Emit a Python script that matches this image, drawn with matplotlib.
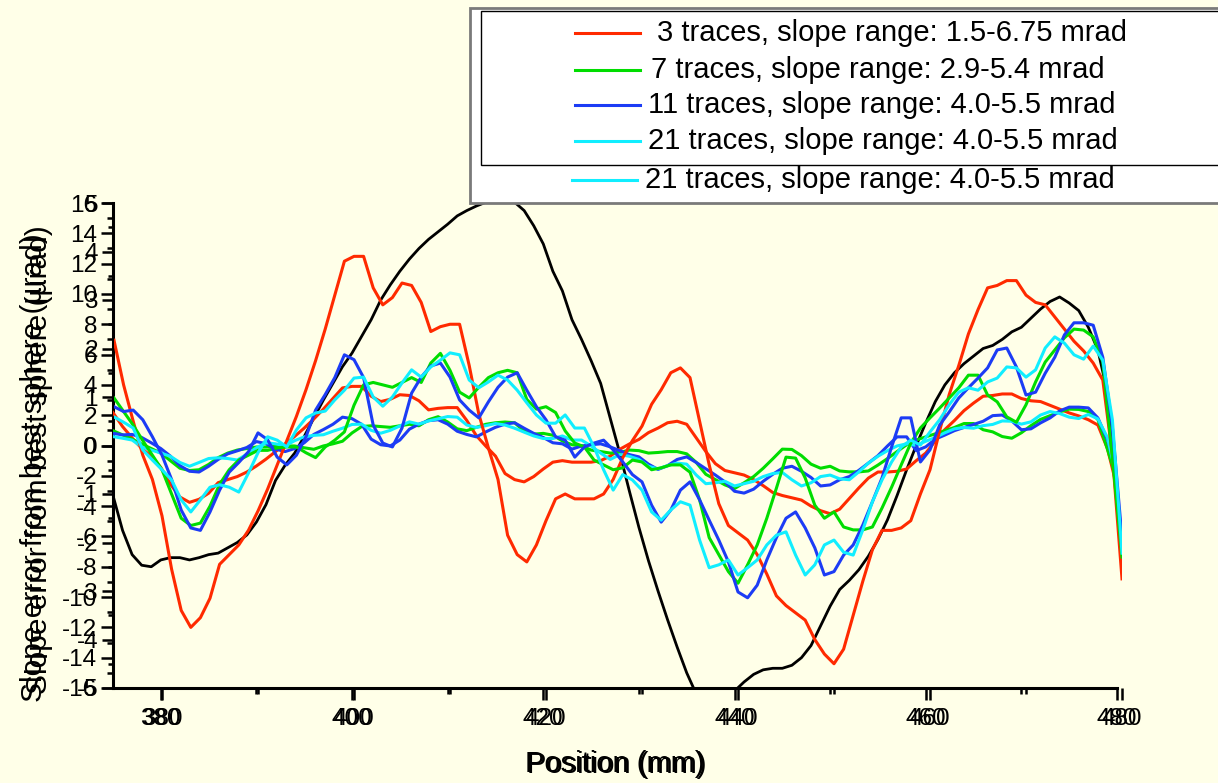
import numpy as np
import matplotlib
matplotlib.use("Agg")
import matplotlib.pyplot as plt
from matplotlib.lines import Line2D
from matplotlib.patches import Rectangle
from matplotlib.ticker import MultipleLocator

plt.rcParams['font.family'] = ['Liberation Sans', 'DejaVu Sans']
plt.rcParams['axes.unicode_minus'] = False

# ---------------- data ----------------
position = np.arange(375, 481)  # mm

red = [2.17, 1.25, 0.5, -0.2, -0.7, -1.45, -2.55, -3.4, -3.75, -3.55,
       -3.15, -2.45, -2.25, -2.05, -1.75, -1.35, -0.9, -0.4, 0.1, 0.6,
       1.15, 1.75, 2.4, 3.1, 3.8, 3.9, 3.9, 3.25, 2.9, 3.05,
       3.35, 3.3, 2.95, 2.35, 2.45, 2.5, 2.5, 1.65, 0.65, -0.05,
       -0.7, -1.85, -2.25, -2.4, -2.05, -1.55, -1.1, -1.0, -1.1, -1.1,
       -1.1, -1.0, -0.7, -0.25, 0.1, 0.4, 0.85, 1.15, 1.5, 1.6,
       1.4, 0.5, -0.4, -1.2, -1.65, -1.8, -1.95, -2.25, -2.65, -3.1,
       -3.3, -3.45, -3.6, -4.0, -4.3, -4.5, -4.2, -3.5, -2.8, -2.15,
       -1.75, -1.75, -1.7, -1.55, -1.0, -0.5, 0.3, 1.05, 1.65, 2.3,
       2.8, 3.25, 3.3, 3.4, 3.4, 3.1, 2.95, 2.9, 2.65, 2.4,
       2.15, 1.95, 1.7, 1.35, -0.2, -2.75]

green = [0.98, 0.7, 0.42, 0.1, -0.2, -0.5, -1.0, -1.5, -1.65, -1.6,
         -1.25, -0.8, -0.5, -0.3, -0.2, -0.1, -0.1, -0.05, -0.03, -0.03,
         -0.15, -0.25, -0.03, 0.11, 0.28, 0.83, 1.25, 1.3, 1.25, 1.2,
         1.3, 1.4, 1.3, 1.7, 1.9, 1.55, 1.1, 0.98, 1.2, 1.4,
         1.5, 1.55, 1.5, 0.95, 0.75, 0.8, 0.68, 0.3, 0.05, -0.03,
         -0.3, -0.4, -0.5, -0.46, -0.3, -0.34, -0.5, -0.46, -0.4, -0.4,
         -0.55, -1.12, -1.9, -2.25, -2.6, -2.84, -2.46, -2.05, -1.5, -0.88,
         -0.24, -0.26, -0.67, -1.23, -1.5, -1.37, -1.68, -1.74, -1.74, -1.68,
         -1.29, -0.86, -0.4, 0.05, 0.36, 0.57, 0.77, 0.98, 1.19, 1.45,
         1.45, 1.04, 0.9, 0.59, 0.48, 0.84, 1.31, 1.72, 1.97, 2.22,
         2.4, 2.38, 2.24, 1.72, -0.25, -2.3]

blue = [0.8, 0.7, 0.73, 0.53, 0.18, -0.2, -0.7, -1.33, -1.7, -1.75,
        -1.37, -0.92, -0.55, -0.35, -0.13, 0.26, 0.12, -0.24, -0.4, -0.2,
        0.18, 0.73, 1.05, 1.4, 1.87, 1.77, 1.4, 0.42, 0.05, -0.03,
        0.36, 1.08, 1.41, 1.64, 1.7, 1.41, 0.94, 0.73, 0.57, 0.9,
        1.2, 1.41, 1.5, 1.14, 0.8, 0.53, 0.18, 0.11, -0.24, -0.03,
        0.05, 0.11, -0.09, -0.34, -0.6, -0.75, -1.23, -1.58, -1.33, -0.92,
        -0.75, -1.12, -1.54, -1.95, -2.4, -3.02, -3.14, -2.88, -2.36, -1.9,
        -1.5, -1.37, -1.7, -2.11, -2.67, -2.6, -2.26, -2.05, -1.64, -1.16,
        -0.67, -0.03, 0.57, 0.57, -0.34, -0.09, 0.42, 0.69, 0.98, 1.19,
        1.39, 1.6, 1.97, 2.01, 1.62, 1.04, 1.1, 1.49, 1.82, 2.28,
        2.53, 2.53, 2.48, 1.82, 0.38, -1.91]

cyan = [0.59, 0.48, 0.36, -0.09, -0.3, -0.5, -0.71, -1.12, -1.37, -1.12,
        -0.86, -0.81, -0.86, -0.96, -0.57, -0.15, 0.18, 0.11, -0.03, 0.32,
        0.57, 0.67, 0.71, 0.94, 1.14, 1.39, 1.41, 1.0, 0.81, 1.0,
        1.29, 1.56, 1.41, 1.62, 1.76, 1.91, 1.87, 1.35, 1.19, 1.31,
        1.45, 1.35, 1.14, 0.88, 0.63, 0.46, 0.46, 0.63, 0.36, 0.36,
        -0.03, -0.5, -0.92, -0.6, -0.71, -0.92, -1.37, -1.54, -1.33, -1.16,
        -1.23, -1.95, -2.52, -2.46, -2.36, -2.67, -2.52, -2.36, -2.05, -1.85,
        -1.78, -2.26, -2.67, -2.46, -2.05, -1.95, -2.2, -2.26, -1.74, -1.16,
        -0.71, -0.34, -0.03, 0.11, 0.01, 0.28, 0.53, 0.84, 1.1, 1.19,
        1.14, 1.31, 1.39, 1.62, 1.6, 1.41, 1.56, 2.01, 2.24, 2.11,
        1.87, 1.78, 2.05, 1.76, 0.53, -2.22]

black = [-3.3, -5.6, -7.2, -7.9, -8.0, -7.55, -7.4, -7.4, -7.55, -7.4,
         -7.2, -7.1, -6.75, -6.4, -5.9, -5.05, -3.9, -2.3, -1.3, -0.5,
         0.6, 1.8, 3.0, 4.1, 5.2, 6.1, 7.2, 8.3, 9.6, 10.6,
         11.5, 12.3, 13.0, 13.6, 14.1, 14.6, 15.15, 15.5, 15.8, 16.05,
         16.1, 16.1, 16.05, 15.5, 14.5, 13.3, 11.5, 10.2, 8.3, 7.0,
         5.6, 4.1, 1.8, -0.5, -3.0, -5.4, -7.6, -9.6, -11.5, -13.3,
         -15.0, -16.4, -17.2, -17.5, -17.0, -16.2, -15.6, -15.1, -14.8, -14.7,
         -14.7, -14.5, -14.0, -13.2, -11.9, -10.6, -9.5, -8.9, -8.2, -7.3,
         -6.2, -4.9, -3.3, -1.6, 0.0, 1.5, 2.9, 4.0, 4.8, 5.4,
         5.9, 6.4, 6.6, 7.0, 7.5, 7.8, 8.4, 9.0, 9.5, 9.8,
         9.4, 8.9, 7.8, 6.3, 3.5, -2.0]

series_labels = ["3 traces, slope range: 1.5-6.75 mrad",
                 "7 traces, slope range: 2.9-5.4 mrad",
                 "11 traces, slope range: 4.0-5.5 mrad",
                 "21 traces, slope range: 4.0-5.5 mrad"]
outer_label = "21 traces, slope range: 4.0-5.5 mrad"

series = [red, green, blue, cyan]
colors = ['#ff2a00', '#00dd00', '#1c3cf5', '#11eeff']

# ---------------- figure ----------------
W, H = 1218, 783
BG = '#ffffe8'
fig = plt.figure(figsize=(W / 100, H / 100), dpi=100, facecolor=BG)


def rect_px(left, right, top, bottom):
    return [left / W, 1 - bottom / H, (right - left) / W, (bottom - top) / H]


def fx(x):
    return x / W


def fy(y):
    return 1 - y / H


ax1 = fig.add_axes(rect_px(113, 1117, 203, 688))
ax2 = fig.add_axes(rect_px(114, 1122, 203, 688))

LW = 2.2
ax1.plot(position, black, color='black', lw=2.0, zorder=2)
for vals, c in zip(series, colors):
    ax1.plot(position, vals, color=c, lw=LW, zorder=3)
for vals, c in zip(series, colors):
    ax2.plot(position, vals, color=c, lw=LW, zorder=3)

ax1.set_xlim(375, 480)
ax2.set_xlim(375, 480)
ax1.set_ylim(-16, 16)
ax2.set_ylim(-5, 5)

for ax in (ax1, ax2):
    ax.set_facecolor('none')
    ax.spines['top'].set_visible(False)
    ax.spines['right'].set_visible(False)
    ax.xaxis.set_major_locator(MultipleLocator(20))
    ax.xaxis.set_minor_locator(MultipleLocator(10))
    ax.tick_params(which='major', direction='out', length=8.5, width=1.8,
                   labelsize=17.5, colors='black')
    ax.tick_params(which='minor', direction='out', length=4, width=1.8)
    ax.tick_params(axis='y', pad=3)
    ax.tick_params(axis='x', pad=6)

for sp in ('left', 'bottom'):
    ax1.spines[sp].set_linewidth(2.2)
    ax2.spines[sp].set_visible(False)

ax1.yaxis.set_major_locator(MultipleLocator(2))
ax1.yaxis.set_minor_locator(MultipleLocator(1))
ax2.yaxis.set_major_locator(MultipleLocator(1))
ax2.yaxis.set_minor_locator(MultipleLocator(0.5))

# axis titles (doubled as in the overlaid original)
ylab = "Slope error from best sphere (\u00b5rad)"
fig.text(fx(34), fy(468), ylab, rotation=90, ha='center', va='center', fontsize=21.5)
fig.text(fx(39), fy(460), ylab, rotation=90, ha='center', va='center', fontsize=21.5)
fig.text(fx(615), fy(764), "Position (mm)", ha='center', va='center', fontsize=21)
fig.text(fx(617), fy(765), "Position (mm)", ha='center', va='center', fontsize=21)

# legend boxes
outer = Rectangle((fx(470), fy(203)), fx(1240) - fx(470), fy(8) - fy(203),
                  transform=fig.transFigure, facecolor='white', edgecolor='#7a7a7a',
                  lw=2.0, zorder=10)
fig.add_artist(outer)
ol = Line2D([fx(572), fx(637)], [fy(180), fy(180)], transform=fig.transFigure,
            color=colors[3], lw=LW, zorder=11)
fig.add_artist(ol)
fig.text(fx(645), fy(180), outer_label, ha='left', va='center', fontsize=21, zorder=11)

inner = Rectangle((fx(481), fy(165)), fx(1240) - fx(481), fy(11) - fy(165),
                  transform=fig.transFigure, facecolor='white', edgecolor='black',
                  lw=1.0, zorder=12)
fig.add_artist(inner)
row_y = [33, 70, 105, 141]
text_x = [657, 651, 648, 648]
for lab, c, yy, tx in zip(series_labels, colors, row_y, text_x):
    ln = Line2D([fx(575), fx(640)], [fy(yy), fy(yy)], transform=fig.transFigure,
                color=c, lw=LW, zorder=13)
    fig.add_artist(ln)
    fig.text(fx(tx), fy(yy), lab, ha='left', va='center', fontsize=21, zorder=13)

fig.savefig("out.png", dpi=100, facecolor=BG)
